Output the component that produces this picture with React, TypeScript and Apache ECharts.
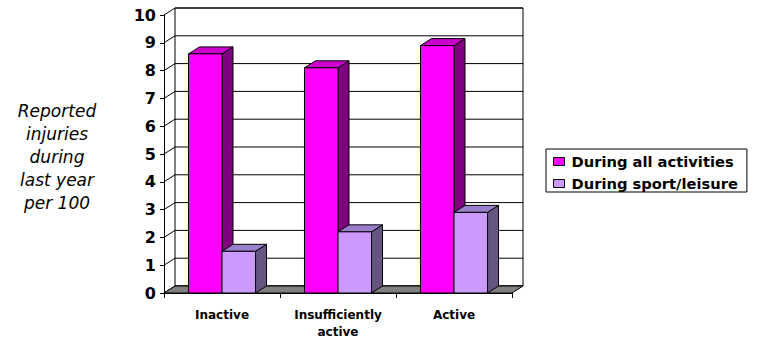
import React, { useEffect, useRef } from "react";
import * as echarts from "echarts";

// Injury rates per 100 people, by activity level
const categories = ["Inactive", "Insufficiently\nactive", "Active"];
const seriesNames = ["During all activities", "During sport/leisure"];
const allActivities = [8.6, 8.1, 8.9];
const sportLeisure = [1.5, 2.2, 2.9];

// Value axis
const yMin = 0;
const yMax = 10;
const yStep = 1;
const yTitle = "Reported\ninjuries\nduring\nlast year\nper 100";

const FONT = '"DejaVu Sans", "Liberation Sans", sans-serif';
// Pixel offset of the back plane relative to the front plane
const DEPTH_X = 11;
const DEPTH_Y = -7;
// Bar width as a share of one category band
const BAR_RATIO = 0.289;

const palette = [
  { front: "#FF00FF", top: "#CC00CC", side: "#800080" },
  { front: "#CC99FF", top: "#9A7FCC", side: "#665580" },
];

const edge = { stroke: "#000", lineWidth: 1 };

// Back wall, left wall grid and floor of the 3D box
function renderWalls(params: any, api: any) {
  const cs = params.coordSys;
  const left = cs.x;
  const right = cs.x + cs.width;
  const yAt = (v: number) => api.coord([0, v])[1];
  const bottom = yAt(yMin);
  const top = yAt(yMax);
  const children: any[] = [];
  children.push({
    type: "rect",
    shape: { x: left + DEPTH_X, y: top + DEPTH_Y, width: cs.width, height: bottom - top },
    style: { fill: "#fff", ...edge },
  });
  const steps = Math.round((yMax - yMin) / yStep);
  for (let i = 0; i <= steps; i++) {
    const y = yAt(yMin + i * yStep);
    children.push({
      type: "line",
      shape: { x1: left + DEPTH_X, y1: y + DEPTH_Y, x2: right + DEPTH_X, y2: y + DEPTH_Y },
      style: edge,
    });
    children.push({
      type: "line",
      shape: { x1: left, y1: y, x2: left + DEPTH_X, y2: y + DEPTH_Y },
      style: edge,
    });
  }
  children.push({
    type: "polygon",
    shape: {
      points: [
        [left, bottom],
        [right, bottom],
        [right + DEPTH_X, bottom + DEPTH_Y],
        [left + DEPTH_X, bottom + DEPTH_Y],
      ],
    },
    style: { fill: "#808080", ...edge },
  });
  return { type: "group", children };
}

// Prism-shaped bar: front face, top face and right side face
const makeBarRenderer = (slot: number, colors: { front: string; top: string; side: string }) =>
  (params: any, api: any) => {
    const idx = api.value(0);
    const val = api.value(1);
    const [cx, yTop] = api.coord([idx, val]);
    const y0 = api.coord([idx, yMin])[1];
    const band = api.size([1, 0])[0];
    const w = band * BAR_RATIO;
    const x0 = cx + (slot - 1) * w;
    const x1 = x0 + w;
    return {
      type: "group",
      children: [
        {
          type: "polygon",
          shape: {
            points: [
              [x1, yTop],
              [x1 + DEPTH_X, yTop + DEPTH_Y],
              [x1 + DEPTH_X, y0 + DEPTH_Y],
              [x1, y0],
            ],
          },
          style: { fill: colors.side, ...edge },
        },
        {
          type: "polygon",
          shape: {
            points: [
              [x0, yTop],
              [x1, yTop],
              [x1 + DEPTH_X, yTop + DEPTH_Y],
              [x0 + DEPTH_X, yTop + DEPTH_Y],
            ],
          },
          style: { fill: colors.top, ...edge },
        },
        {
          type: "rect",
          shape: { x: x0, y: yTop, width: w, height: y0 - yTop },
          style: { fill: colors.front, ...edge },
        },
      ],
    };
  };

export default function App() {
  const ref = useRef<HTMLDivElement>(null);

  useEffect(() => {
    if (!ref.current) return;
    const chart = echarts.init(ref.current, null, { renderer: "svg" });
    const valueSets = [allActivities, sportLeisure];
    chart.setOption({
      animation: false,
      backgroundColor: "#fff",
      grid: { left: 164, top: 15, width: 348, height: 284 },
      xAxis: {
        type: "category",
        data: categories,
        axisLine: { show: true, lineStyle: { color: "#000", width: 1 } },
        axisTick: { show: true, length: 5, lineStyle: { color: "#000" } },
        axisLabel: {
          interval: 0,
          color: "#000",
          fontFamily: FONT,
          fontWeight: "bold",
          fontSize: 12,
          lineHeight: 17,
          margin: 13,
        },
      },
      yAxis: {
        type: "value",
        min: yMin,
        max: yMax,
        interval: yStep,
        splitLine: { show: false },
        axisLine: { show: true, lineStyle: { color: "#000", width: 1 } },
        axisTick: { show: true, length: 4, lineStyle: { color: "#000" } },
        axisLabel: {
          color: "#000",
          fontFamily: FONT,
          fontWeight: "bold",
          fontSize: 16,
          margin: 8,
        },
      },
      legend: {
        data: seriesNames.map((name, i) => ({
          name,
          itemStyle: { color: palette[i].front, borderColor: "#000", borderWidth: 1 },
        })),
        orient: "vertical",
        left: 546,
        top: 149,
        padding: [5, 9, 1, 7],
        itemGap: 7,
        itemWidth: 11,
        itemHeight: 8,
        icon: "rect",
        selectedMode: false,
        borderColor: "#000",
        borderWidth: 1,
        textStyle: {
          fontFamily: FONT,
          fontWeight: "bold",
          fontSize: 14.7,
          color: "#000",
          padding: [0, 0, 0, 2],
        },
      },
      graphic: [
        {
          type: "text",
          x: 57,
          y: 157,
          style: {
            text: yTitle,
            fontFamily: FONT,
            fontStyle: "italic",
            fontSize: 17,
            lineHeight: 23,
            fill: "#000",
            align: "center",
            verticalAlign: "middle",
          },
        },
      ],
      series: [
        {
          type: "custom",
          silent: true,
          z: 1,
          data: [[0, 0]],
          renderItem: renderWalls,
        },
        ...valueSets.map((values, s) => ({
          type: "custom",
          name: seriesNames[s],
          z: 2 + s,
          itemStyle: { color: palette[s].front },
          encode: { x: 0, y: 1 },
          data: values.map((v, i) => [i, v]),
          renderItem: makeBarRenderer(s, palette[s]),
        })),
      ],
    });
    return () => chart.dispose();
  }, []);

  return (
    <div
      ref={ref}
      style={{ position: "absolute", left: 0, top: 0, width: 760, height: 340 }}
    />
  );
}
